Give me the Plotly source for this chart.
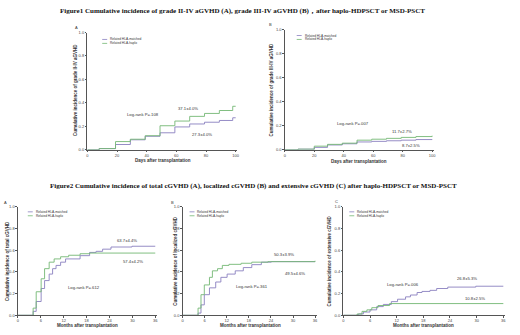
import plotly.graph_objects as go

W, H = 520, 335

# ---------------- data ----------------
# Figure 1A: grade II-IV aGVHD (days)
a1_days_up = [0, 8, 19, 29, 39, 49, 59, 69, 79, 89, 98, 100]
a1_val_up = [0, 0.01, 0.07, 0.09, 0.12, 0.205, 0.245, 0.285, 0.31, 0.335, 0.371, 0.371]
a1_days_lo = [0, 8, 19, 29, 39, 49, 59, 69, 79, 89, 98, 100]
a1_val_lo = [0, 0.01, 0.045, 0.085, 0.115, 0.145, 0.195, 0.22, 0.235, 0.25, 0.273, 0.273]

# Figure 1B: grade III-IV aGVHD (days)
b1_days_up = [0, 9, 20, 29, 39, 49, 59, 69, 79, 89, 100]
b1_val_up = [0, 0.005, 0.03, 0.045, 0.055, 0.08, 0.088, 0.095, 0.103, 0.11, 0.117]
b1_days_lo = [0, 9, 20, 29, 39, 49, 59, 69, 79, 89, 100]
b1_val_lo = [0, 0.005, 0.02, 0.04, 0.05, 0.065, 0.07, 0.075, 0.08, 0.085, 0.087]

# Figure 2A: total cGVHD (months)
a2_m_p = [0, 4.0, 4.8, 6.1, 7.0, 8.2, 9.1, 10.0, 11.2, 12.5, 16.3, 18.8, 20.5, 22.2, 24.4, 29.9, 36]
a2_v_p = [0, 0.036, 0.127, 0.247, 0.32, 0.38, 0.43, 0.46, 0.49, 0.52, 0.55, 0.58, 0.59, 0.61, 0.63, 0.637, 0.637]
a2_m_g = [0, 4.0, 4.8, 6.1, 7.0, 8.2, 9.5, 11.2, 13.3, 16.3, 18.8, 36]
a2_v_g = [0, 0.066, 0.217, 0.337, 0.43, 0.49, 0.52, 0.54, 0.554, 0.568, 0.574, 0.574]

# Figure 2B: localized cGVHD (months)
b2_m_g = [0, 4.2, 5.0, 5.9, 7.3, 8.1, 9.5, 10.8, 12.6, 15.9, 18.8, 23.2, 36]
b2_v_g = [0, 0.066, 0.19, 0.28, 0.35, 0.41, 0.43, 0.46, 0.47, 0.48, 0.49, 0.495, 0.503]
b2_m_p = [0, 4.2, 5.0, 5.9, 7.3, 9.0, 10.4, 12.1, 14.3, 16.5, 18.8, 21.4, 24.1, 36]
b2_v_p = [0, 0.02, 0.096, 0.19, 0.253, 0.307, 0.35, 0.38, 0.41, 0.44, 0.467, 0.49, 0.495, 0.495]

# Figure 2C: extensive cGVHD (months)
c2_m_p = [0, 3.1, 3.4, 4.5, 6.0, 7.5, 9.0, 10.8, 12.2, 14.0, 15.1, 16.6, 17.7, 19.5, 21.0, 23.5, 29.8, 36]
c2_v_p = [0, 0.005, 0.012, 0.03, 0.05, 0.08, 0.10, 0.126, 0.148, 0.17, 0.187, 0.21, 0.22, 0.23, 0.247, 0.26, 0.268, 0.268]
c2_m_g = [0, 3.1, 4.2, 5.3, 6.4, 7.8, 10.4, 36]
c2_v_g = [0, 0.012, 0.036, 0.05, 0.07, 0.09, 0.108, 0.108]

series_names = ["Related HLA-matched", "Related HLA-haplo"]
fig1_title = "Figure1 Cumulative incidence of grade II-IV aGVHD (A), grade III-IV aGVHD (B)，after haplo-HDPSCT or MSD-PSCT"
fig2_title = "Figure2 Cumulative incidence of total cGVHD (A), localized cGVHD (B) and extensive cGVHD (C) after haplo-HDPSCT or MSD-PSCT"
y_ticks = [0.0, 0.2, 0.4, 0.6, 0.8, 1.0]
day_ticks = [0, 20, 40, 60, 80, 100]
month_ticks = [0, 6, 12, 18, 24, 30, 36]

GREEN = "#74b874"
PURPLE = "#8a80c0"
AX = "#555555"

fig = go.Figure()

def xd(a, b):
    return [a / W, b / W]

def yd(top, bot):
    return [1 - bot / H, 1 - top / H]

def px(x):
    return x / W

def py(y):
    return 1 - y / H

panels = [
    ("", (87, 238), (30, 149), [0, 101], day_ticks,
     [(a1_days_lo, a1_val_lo, PURPLE), (a1_days_up, a1_val_up, GREEN)]),
    ("2", (286, 436), (27, 149), [0, 101], day_ticks,
     [(b1_days_lo, b1_val_lo, PURPLE), (b1_days_up, b1_val_up, GREEN)]),
    ("3", (17, 157), (207, 317), [0, 36.4], month_ticks,
     [(a2_m_p, a2_v_p, PURPLE), (a2_m_g, a2_v_g, GREEN)]),
    ("4", (183, 318), (207, 317), [0, 36.4], month_ticks,
     [(b2_m_p, b2_v_p, PURPLE), (b2_m_g, b2_v_g, GREEN)]),
    ("5", (345, 508), (207, 317), [0, 36.4], month_ticks,
     [(c2_m_p, c2_v_p, PURPLE), (c2_m_g, c2_v_g, GREEN)]),
]

layout = dict(
    width=W, height=H, margin=dict(l=0, r=0, t=0, b=0),
    paper_bgcolor="white", plot_bgcolor="white", showlegend=False,
    font=dict(family="Liberation Sans, Arial, sans-serif", size=4, color="#333"),
)

for suf, (x0, x1), (y0, y1), xr, xt, curves in panels:
    xa = "xaxis" + suf
    ya = "yaxis" + suf
    for xs, ys, col in curves:
        fig.add_trace(go.Scatter(
            x=xs, y=ys, mode="lines", line=dict(color=col, width=0.9, shape="hv"),
            xaxis="x" + suf, yaxis="y" + suf, hoverinfo="skip"))
    layout[xa] = dict(
        domain=xd(x0, x1), range=xr, anchor="y" + suf, tickvals=xt,
        showgrid=False, zeroline=False, showline=True, linecolor=AX, linewidth=0.8,
        ticks="outside", ticklen=1.5, tickcolor=AX, tickwidth=0.6,
        tickfont=dict(size=4, color="#444"))
    layout[ya] = dict(
        domain=yd(y0, y1), range=[0, 1.0], anchor="x" + suf, tickvals=y_ticks,
        ticktext=["%.1f" % v for v in y_ticks],
        showgrid=False, zeroline=False, showline=True, linecolor=AX, linewidth=0.8,
        ticks="outside", ticklen=1.5, tickcolor=AX, tickwidth=0.6,
        tickfont=dict(size=4, color="#444"))

fig.update_layout(**layout)

ann = []
shapes = []

def text(x, y, s, size=4, bold=False, angle=0, family=None, xanchor="center", color="#333"):
    d = dict(x=px(x), y=py(y), xref="paper", yref="paper", text=("<b>%s</b>" % s) if bold else s,
             showarrow=False, font=dict(size=size, color=color), textangle=angle,
             xanchor=xanchor, yanchor="middle")
    if family:
        d["font"]["family"] = family
    ann.append(d)

# titles
text(243, 8, fig1_title, size=7, bold=True, family="Liberation Serif, Times New Roman, serif", color="#111")
text(254, 186, fig2_title, size=7, bold=True, family="Liberation Serif, Times New Roman, serif", color="#111")

# panel letters
text(76, 25, "A"); text(272, 22, "B")
text(5, 203, "A"); text(173, 203, "B"); text(338, 202, "C")

# axis titles
text(163, 160, "Days after transplantation", size=4.5, bold=True)
text(361, 161, "Days after transplantation", size=4.5, bold=True)
for cx in (87, 251, 426):
    text(cx, 327, "Months after transplantation", size=4.5, bold=True)
text(75, 88, "Cumulative incidence of grade II-IV aGVHD", size=4.5, bold=True, angle=-90)
text(273, 88, "Cumulative incidence of grade III-IV aGVHD", size=4.5, bold=True, angle=-90)
text(6, 262, "Cumulative incidence of total cGVHD", size=4.5, bold=True, angle=-90)
text(175, 262, "Cumulative incidence of localized cGVHD", size=4.5, bold=True, angle=-90)
text(331, 262, "Cumulative incidence of extensive cGVHD", size=4.5, bold=True, angle=-90)

# in-plot notes
notes = [
    (143, 113, "Log-rank P=.108"), (188, 107, "37.1±4.0%"), (203, 133, "27.3±4.0%"),
    (355, 122, "Log-rank P=.007"), (404, 130, "11.7±2.7%"), (413, 145, "8.7±2.5%"),
    (84, 289, "Log-rank P=.612"), (127, 241, "63.7±4.4%"), (133, 262, "57.4±4.2%"),
    (253, 288, "Log-rank P=.361"), (285, 255, "50.3±3.9%"), (296, 275, "49.5±4.6%"),
    (405, 286, "Log-rank P=.006"), (470, 280, "26.8±5.3%"), (478, 300, "10.8±2.5%"),
]
for x, y, s in notes:
    text(x, y, s, size=4.2)

# legends
for lx, ly in [(102, 37), (298, 33), (27, 212), (190, 212), (351, 212)]:
    for i, (name, col) in enumerate(zip(series_names, [PURPLE, GREEN])):
        yy = ly + i * 4
        shapes.append(dict(type="line", xref="paper", yref="paper",
                           x0=px(lx), x1=px(lx + 5), y0=py(yy), y1=py(yy),
                           line=dict(color=col, width=0.8)))
        text(lx + 6, yy, name, size=3.2, xanchor="left")

fig.update_layout(annotations=ann, shapes=shapes)
fig.write_html("out.html", config={"displayModeBar": False},
               post_script="document.body.style.margin='0px';document.body.style.overflow='hidden';")
